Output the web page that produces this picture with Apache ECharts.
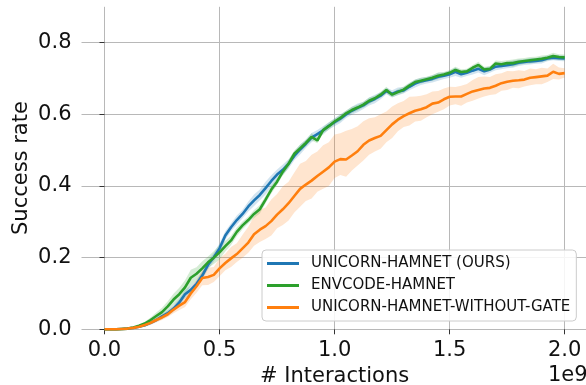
<!DOCTYPE html>
<html>
<head>
<meta charset="utf-8">
<script src="https://cdn.jsdelivr.net/npm/echarts@6/dist/echarts.min.js"></script>
<style>
html,body{margin:0;padding:0;background:#fff;}
#chart{width:586px;height:385px;}
</style>
</head>
<body>
<div id="chart"></div>
<script>
// ---- data ----
const seriesNames = ['UNICORN-HAMNET (OURS)', 'ENVCODE-HAMNET', 'UNICORN-HAMNET-WITHOUT-GATE'];
const xTicks = [0, 0.5, 1.0, 1.5, 2.0];
const yTicks = [0, 0.2, 0.4, 0.6, 0.8];
const steps = [0,0.025,0.05,0.075,0.1,0.125,0.15,0.175,0.2,0.225,0.25,0.275,0.3,0.325,0.35,0.375,0.4,0.425,0.45,0.475,0.5,0.525,0.55,0.575,0.6,0.625,0.65,0.675,0.7,0.725,0.75,0.775,0.8,0.825,0.85,0.875,0.9,0.925,0.95,0.975,1.0,1.025,1.05,1.075,1.1,1.125,1.15,1.175,1.2,1.225,1.25,1.275,1.3,1.325,1.35,1.375,1.4,1.425,1.45,1.475,1.5,1.525,1.55,1.575,1.6,1.625,1.65,1.675,1.7,1.725,1.75,1.775,1.8,1.825,1.85,1.875,1.9,1.925,1.95,1.975,2.0];
const unicorn = [0,0,0,0.001,0.002,0.004,0.007,0.011,0.018,0.026,
0.036,0.045,0.058,0.075,0.098,0.110,0.127,0.150,0.180,0.201,
0.226,0.262,0.285,0.305,0.322,0.343,0.360,0.375,0.394,0.414,
0.432,0.445,0.462,0.484,0.502,0.518,0.535,0.545,0.555,0.568,
0.578,0.588,0.600,0.610,0.618,0.625,0.636,0.643,0.652,0.665,
0.657,0.664,0.667,0.677,0.686,0.692,0.695,0.699,0.705,0.708,
0.712,0.719,0.712,0.716,0.722,0.727,0.720,0.725,0.733,0.735,
0.737,0.740,0.744,0.746,0.748,0.749,0.751,0.756,0.758,0.757,
0.756];
const unicornSd = [0,0,0,0,0.001,
0.002,0.003,0.004,0.005,0.006,0.007,0.008,0.009,0.010,0.012,
0.012,0.010,0.011,0.013,0.012,0.014,0.012,0.011,0.013,0.012,
0.014,0.016,0.015,0.018,0.016,0.014,0.015,0.013,0.012,0.014,
0.012,0.013,0.011,0.012,0.010,0.011,0.012,0.010,0.011,0.012,
0.010,0.011,0.012,0.010,0.009,0.010,0.011,0.009,0.010,0.011,
0.010,0.009,0.010,0.011,0.009,0.010,0.012,0.010,0.009,0.011,
0.010,0.011,0.009,0.010,0.009,0.008,0.010,0.009,0.008,0.009,
0.008,0.009,0.008,0.007,0.008,0.008];
const envcode = [0,0,0,0.001,0.002,0.005,0.010,0.016,0.026,0.037,
0.048,0.064,0.083,0.098,0.117,0.144,0.155,0.170,0.187,0.200,
0.215,0.232,0.248,0.272,0.290,0.305,0.322,0.335,0.362,0.390,
0.412,0.440,0.462,0.490,0.505,0.520,0.537,0.527,0.556,0.567,
0.580,0.590,0.603,0.612,0.619,0.627,0.638,0.645,0.655,0.668,
0.655,0.662,0.669,0.680,0.690,0.694,0.698,0.702,0.708,0.711,
0.716,0.724,0.718,0.720,0.730,0.738,0.725,0.727,0.742,0.740,
0.743,0.743,0.747,0.749,0.751,0.753,0.755,0.758,0.763,0.760,
0.759];
const envcodeSd = [0,0,0,0,0.001,
0.002,0.003,0.005,0.007,0.010,0.012,0.014,0.016,0.018,0.020,
0.022,0.018,0.020,0.016,0.018,0.020,0.015,0.013,0.012,0.011,
0.010,0.011,0.012,0.010,0.011,0.009,0.010,0.011,0.009,0.010,
0.009,0.010,0.008,0.009,0.010,0.008,0.009,0.008,0.009,0.008,
0.008,0.009,0.007,0.008,0.009,0.007,0.008,0.009,0.008,0.007,
0.008,0.007,0.008,0.009,0.007,0.008,0.009,0.008,0.007,0.008,
0.009,0.008,0.007,0.008,0.009,0.008,0.010,0.009,0.008,0.009,
0.008,0.009,0.008,0.009,0.008,0.008];
const noGate = [0,0,0,0.001,0.002,0.004,0.007,0.012,0.018,0.026,
0.033,0.042,0.055,0.066,0.076,0.100,0.120,0.143,0.146,0.152,
0.170,0.185,0.198,0.210,0.226,0.242,0.265,0.278,0.288,0.302,
0.320,0.335,0.352,0.372,0.392,0.404,0.415,0.428,0.440,0.452,
0.468,0.475,0.474,0.485,0.497,0.515,0.527,0.534,0.540,0.556,
0.572,0.585,0.595,0.603,0.610,0.614,0.620,0.630,0.633,0.642,
0.649,0.650,0.650,0.657,0.664,0.668,0.672,0.674,0.680,0.687,
0.691,0.694,0.695,0.697,0.702,0.704,0.706,0.708,0.719,0.713,
0.715];
const noGateUp = [0,0,0,0,0.001,
0.002,0.003,0.004,0.005,0.006,0.007,0.008,0.010,0.012,0.014,
0.016,0.018,0.020,0.026,0.022,0.028,0.026,0.032,0.030,0.038,
0.044,0.050,0.056,0.052,0.060,0.058,0.064,0.060,0.066,0.070,
0.066,0.072,0.068,0.074,0.070,0.076,0.072,0.080,0.074,0.070,
0.066,0.062,0.058,0.060,0.052,0.050,0.046,0.042,0.046,0.040,
0.038,0.036,0.034,0.032,0.030,0.028,0.026,0.030,0.028,0.032,
0.036,0.034,0.030,0.032,0.028,0.030,0.026,0.028,0.024,0.026,
0.022,0.024,0.020,0.022,0.018,0.014];
const noGateDn = [0,0,0,0,0.001,
0.002,0.003,0.004,0.005,0.006,0.007,0.008,0.010,0.012,0.014,
0.016,0.018,0.020,0.022,0.020,0.022,0.020,0.024,0.022,0.026,
0.028,0.032,0.034,0.036,0.040,0.038,0.044,0.048,0.046,0.050,
0.046,0.050,0.044,0.048,0.052,0.046,0.044,0.048,0.042,0.040,
0.044,0.040,0.038,0.036,0.034,0.038,0.032,0.030,0.034,0.030,
0.032,0.028,0.030,0.026,0.028,0.024,0.022,0.026,0.024,0.026,
0.024,0.022,0.020,0.024,0.021,0.023,0.020,0.022,0.019,0.021,
0.020,0.022,0.018,0.020,0.016,0.012];

// ---- chart ----
const FONT = 'DejaVu Sans';
const TXT = '#111111';
const GRIDC = '#b8b8b8';
const colors = ['#1f77b4', '#2ca02c', '#ff7f0e'];
const bandFills = ['rgba(31,119,180,0.2)', 'rgba(44,160,44,0.2)', 'rgba(255,127,14,0.2)'];

function bandSeries(mean, up, dn, fill) {
  const data = steps.map((x, i) => [x, mean[i] - dn[i], mean[i] + up[i]]);
  return {
    type: 'custom', silent: true, xAxisIndex: 0, yAxisIndex: 0,
    encode: { x: 0, y: [1, 2] },
    data: data,
    renderItem: function (params, api) {
      if (params.dataIndex !== 0) return null;
      const pts = [];
      for (let i = 0; i < data.length; i++) pts.push(api.coord([data[i][0], data[i][2]]));
      for (let i = data.length - 1; i >= 0; i--) pts.push(api.coord([data[i][0], data[i][1]]));
      return { type: 'polygon', shape: { points: pts }, style: { fill: fill } };
    }
  };
}
function lineSeries(name, mean, color) {
  return {
    name: name, type: 'line', xAxisIndex: 0, yAxisIndex: 0,
    data: steps.map((x, i) => [x, mean[i]]),
    showSymbol: false, symbol: 'none', clip: false,
    lineStyle: { color: color, width: 2.6 },
    itemStyle: { color: color }
  };
}

const chart = echarts.init(document.getElementById('chart'), null, { renderer: 'canvas' });
chart.setOption({
  animation: false,
  backgroundColor: '#ffffff',
  grid: [
    // data grid: x 0..2, y 0..0.8
    { left: 104.5, top: 42.7, width: 460.2, height: 286.6, containLabel: false, outerBoundsMode: 'none' },
    // full plot frame: x -0.1..2.1, y 0..0.9 (grid lines only)
    { left: 81.5, top: 6.8, width: 506.2, height: 322.5, containLabel: false, outerBoundsMode: 'none' }
  ],
  xAxis: [
    {
      gridIndex: 0, type: 'value', min: xTicks[0], max: xTicks[xTicks.length - 1], interval: 0.5,
      name: '# Interactions', nameLocation: 'middle', nameGap: 36,
      nameTextStyle: { fontFamily: FONT, fontSize: 21, color: TXT },
      axisLine: { show: false },
      axisTick: { show: true, length: 5, lineStyle: { color: '#333', width: 1 } },
      axisLabel: { fontFamily: FONT, fontSize: 21, color: TXT, margin: 11, formatter: v => v.toFixed(1) },
      splitLine: { show: false }
    },
    {
      gridIndex: 1, type: 'value', min: -0.1, max: 2.1, minInterval: 0.5, maxInterval: 0.5,
      axisLine: { show: false }, axisTick: { show: false }, axisLabel: { show: false },
      splitLine: { show: true, showMinLine: false, showMaxLine: false, lineStyle: { color: GRIDC, width: 1 } }
    }
  ],
  yAxis: [
    {
      gridIndex: 0, type: 'value', min: yTicks[0], max: yTicks[yTicks.length - 1], interval: 0.2, offset: 23,
      axisLine: { show: false },
      axisTick: { show: true, length: 5, lineStyle: { color: '#333', width: 1 } },
      axisLabel: { fontFamily: FONT, fontSize: 21, color: TXT, margin: 10, formatter: v => v.toFixed(1) },
      splitLine: { show: false }
    },
    {
      gridIndex: 1, type: 'value', min: 0, max: 0.9, interval: 0.2,
      name: 'Success rate', nameLocation: 'middle', nameGap: 49,
      nameTextStyle: { fontFamily: FONT, fontSize: 21, color: TXT },
      axisLine: { show: false }, axisTick: { show: false }, axisLabel: { show: false },
      splitLine: { show: true, showMinLine: true, showMaxLine: false, lineStyle: { color: GRIDC, width: 1 } }
    }
  ],
  legend: {
    orient: 'vertical', left: 262, top: 250,
    data: seriesNames,
    icon: 'rect', itemWidth: 32, itemHeight: 3, itemGap: 7,
    padding: [6, 6, 6, 5],
    backgroundColor: 'rgba(255,255,255,0.85)',
    borderColor: '#cccccc', borderWidth: 1, borderRadius: 4,
    textStyle: { fontFamily: FONT, fontSize: 15, color: TXT, padding: [0, 0, 0, 7] }
  },
  graphic: [{
    type: 'text', left: 548, top: 365,
    style: { text: '1e9', fontFamily: FONT, fontSize: 21, fill: TXT }
  }],
  series: [
    bandSeries(unicorn, unicornSd, unicornSd, bandFills[0]),
    lineSeries(seriesNames[0], unicorn, colors[0]),
    bandSeries(envcode, envcodeSd, envcodeSd, bandFills[1]),
    lineSeries(seriesNames[1], envcode, colors[1]),
    bandSeries(noGate, noGateUp, noGateDn, bandFills[2]),
    lineSeries(seriesNames[2], noGate, colors[2])
  ]
});
</script>
</body>
</html>
